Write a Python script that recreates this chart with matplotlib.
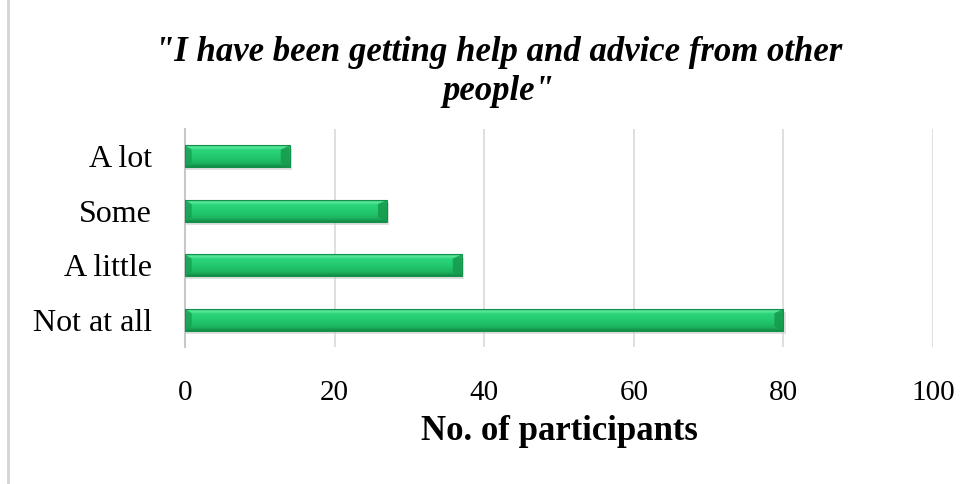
import numpy as np
import matplotlib.pyplot as plt
from matplotlib.colors import LinearSegmentedColormap
from matplotlib.lines import Line2D

categories = ["Not at all", "A little", "Some", "A lot"]
participants = [80, 37, 27, 14]
x_ticks = [0, 20, 40, 60, 80, 100]

title = '"I have been getting help and advice from other\npeople"'
xlabel = "No. of participants"

plt.rcParams['font.family'] = ['Liberation Serif', 'DejaVu Serif']

fig = plt.figure(figsize=(9.74, 4.84), dpi=100)
ax = fig.add_axes([185 / 974, 1 - 347 / 484, (933 - 185) / 974, (347 - 129) / 484])

bar_h = 0.40
ypos = np.arange(len(categories))

# vertical gradient for the bevelled green bars (bottom -> top)
green = LinearSegmentedColormap.from_list(
    "bevel", [(0.0, "#128a45"), (0.18, "#1cb45f"), (0.45, "#22c86e"),
              (0.8, "#2bd57a"), (0.9, "#5eeaa0"), (1.0, "#2fc977")])
grad = np.linspace(0, 1, 64).reshape(-1, 1)

for y, v in zip(ypos, participants):
    # soft drop shadow
    ax.barh(y - 0.06, v + 0.3, height=bar_h, left=0, color="#c4c4c4",
            alpha=0.5, zorder=1, linewidth=0)
    bar = ax.barh(y, v, height=bar_h, color="none", edgecolor="#15904a",
                  linewidth=0.8, zorder=3)[0]
    im = ax.imshow(grad, cmap=green, aspect="auto", origin="lower",
                   extent=(0, v, y - bar_h / 2, y + bar_h / 2), zorder=2,
                   interpolation="bicubic")
    im.set_clip_path(bar)
    # bevel at the right end
    ax.fill([v - 1.2, v, v, v - 1.2],
            [y - bar_h / 2 + 0.08, y - bar_h / 2, y + bar_h / 2, y + bar_h / 2 - 0.08],
            color="#16994d", alpha=0.85, zorder=2.5, linewidth=0)
    # bevel at the left end
    ax.fill([0, 0.9, 0.9, 0],
            [y + bar_h / 2, y + bar_h / 2 - 0.08, y - bar_h / 2 + 0.08, y - bar_h / 2],
            color="#17a054", alpha=0.8, zorder=2.5, linewidth=0)

ax.set_xlim(0, 100)
ax.set_ylim(-0.5, len(categories) - 0.5)
ax.set_xticks(x_ticks)
ax.set_xticklabels([str(t) for t in x_ticks], fontsize=21)
ax.set_yticks(ypos)
ax.set_yticklabels(categories, fontsize=23)
ax.tick_params(axis="both", length=0)
ax.tick_params(axis="x", pad=24)
ax.tick_params(axis="y", pad=24)

ax.grid(axis="x", color="#d9d9d9", linewidth=1.2, zorder=0)
ax.set_axisbelow(True)
for s in ["top", "right", "bottom"]:
    ax.spines[s].set_visible(False)
ax.spines["left"].set_color("#c8c8c8")
ax.spines["left"].set_linewidth(1.5)

ax.set_xlabel(xlabel, fontsize=25, fontweight="bold", labelpad=6)

fig.text(0.512, 1 - 72 / 484, title, ha="center", va="center", fontsize=25,
         fontweight="bold", fontstyle="italic", linespacing=1.25)

# chart area frame on the left edge
fig.add_artist(Line2D([8 / 974, 8 / 974], [0, 1], color="#d4d4d4", linewidth=2))

fig.savefig("out.png", dpi=100)
